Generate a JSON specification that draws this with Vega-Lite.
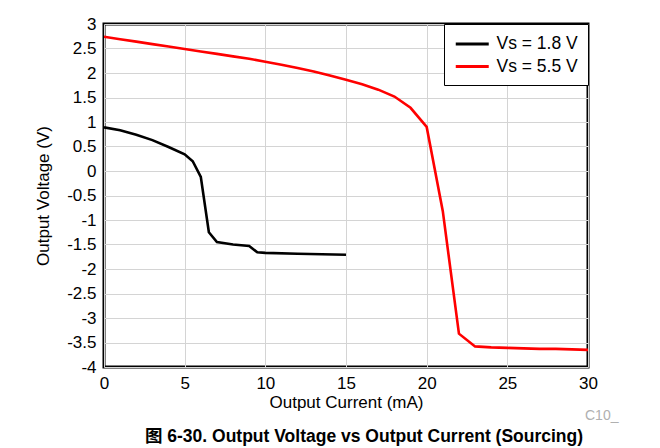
{
  "$schema": "https://vega.github.io/schema/vega-lite/v6.json",
  "width": 484,
  "height": 343,
  "autosize": {"type": "none"},
  "padding": {"left": 104, "top": 24, "right": 72, "bottom": 81},
  "background": "white",
  "title": {
    "text": "图 6-30. Output Voltage vs Output Current (Sourcing)",
    "orient": "bottom",
    "fontSize": 17.5,
    "fontWeight": "bold",
    "font": "Liberation Sans, Noto Sans CJK SC",
    "color": "black",
    "offset": 5,
    "dx": 18
  },
  "config": {
    "font": "Liberation Sans",
    "view": {"stroke": "black", "strokeWidth": 3},
    "axis": {
      "domain": false,
      "ticks": false,
      "grid": true,
      "gridColor": "#d4d4d4",
      "gridWidth": 1,
      "labelFont": "Liberation Sans",
      "labelFontSize": 17,
      "labelColor": "black",
      "labelOverlap": false,
      "titleFont": "Liberation Sans",
      "titleFontSize": 17,
      "titleFontWeight": "normal",
      "titleColor": "black"
    }
  },
  "datasets": {
    "curves": [
      {"current": 0, "voltage": 0.89, "series": "Vs = 1.8 V"},
      {"current": 1, "voltage": 0.83, "series": "Vs = 1.8 V"},
      {"current": 2, "voltage": 0.74, "series": "Vs = 1.8 V"},
      {"current": 3, "voltage": 0.63, "series": "Vs = 1.8 V"},
      {"current": 4, "voltage": 0.49, "series": "Vs = 1.8 V"},
      {"current": 5, "voltage": 0.34, "series": "Vs = 1.8 V"},
      {"current": 5.5, "voltage": 0.2, "series": "Vs = 1.8 V"},
      {"current": 6, "voltage": -0.12, "series": "Vs = 1.8 V"},
      {"current": 6.5, "voltage": -1.25, "series": "Vs = 1.8 V"},
      {"current": 7, "voltage": -1.45, "series": "Vs = 1.8 V"},
      {"current": 8, "voltage": -1.5, "series": "Vs = 1.8 V"},
      {"current": 9, "voltage": -1.53, "series": "Vs = 1.8 V"},
      {"current": 9.5, "voltage": -1.66, "series": "Vs = 1.8 V"},
      {"current": 10, "voltage": -1.67, "series": "Vs = 1.8 V"},
      {"current": 12, "voltage": -1.69, "series": "Vs = 1.8 V"},
      {"current": 15, "voltage": -1.71, "series": "Vs = 1.8 V"},
      {"current": 0, "voltage": 2.74, "series": "Vs = 5.5 V"},
      {"current": 1, "voltage": 2.69, "series": "Vs = 5.5 V"},
      {"current": 2, "voltage": 2.64, "series": "Vs = 5.5 V"},
      {"current": 3, "voltage": 2.59, "series": "Vs = 5.5 V"},
      {"current": 4, "voltage": 2.54, "series": "Vs = 5.5 V"},
      {"current": 5, "voltage": 2.49, "series": "Vs = 5.5 V"},
      {"current": 6, "voltage": 2.44, "series": "Vs = 5.5 V"},
      {"current": 7, "voltage": 2.39, "series": "Vs = 5.5 V"},
      {"current": 8, "voltage": 2.34, "series": "Vs = 5.5 V"},
      {"current": 9, "voltage": 2.29, "series": "Vs = 5.5 V"},
      {"current": 10, "voltage": 2.23, "series": "Vs = 5.5 V"},
      {"current": 11, "voltage": 2.17, "series": "Vs = 5.5 V"},
      {"current": 12, "voltage": 2.1, "series": "Vs = 5.5 V"},
      {"current": 13, "voltage": 2.03, "series": "Vs = 5.5 V"},
      {"current": 14, "voltage": 1.95, "series": "Vs = 5.5 V"},
      {"current": 15, "voltage": 1.86, "series": "Vs = 5.5 V"},
      {"current": 16, "voltage": 1.77, "series": "Vs = 5.5 V"},
      {"current": 17, "voltage": 1.66, "series": "Vs = 5.5 V"},
      {"current": 18, "voltage": 1.52, "series": "Vs = 5.5 V"},
      {"current": 19, "voltage": 1.29, "series": "Vs = 5.5 V"},
      {"current": 20, "voltage": 0.9, "series": "Vs = 5.5 V"},
      {"current": 21, "voltage": -0.82, "series": "Vs = 5.5 V"},
      {"current": 22, "voltage": -3.32, "series": "Vs = 5.5 V"},
      {"current": 23, "voltage": -3.58, "series": "Vs = 5.5 V"},
      {"current": 24, "voltage": -3.6, "series": "Vs = 5.5 V"},
      {"current": 25, "voltage": -3.61, "series": "Vs = 5.5 V"},
      {"current": 26, "voltage": -3.62, "series": "Vs = 5.5 V"},
      {"current": 27, "voltage": -3.63, "series": "Vs = 5.5 V"},
      {"current": 28, "voltage": -3.63, "series": "Vs = 5.5 V"},
      {"current": 29, "voltage": -3.64, "series": "Vs = 5.5 V"},
      {"current": 30, "voltage": -3.65, "series": "Vs = 5.5 V"}
    ],
    "note": [{"current": 30, "voltage": -4, "label": "C10_"}]
  },
  "encoding": {
    "x": {
      "field": "current",
      "type": "quantitative",
      "scale": {"domain": [0, 30], "nice": false},
      "axis": {"values": [0, 5, 10, 15, 20, 25, 30], "title": "Output Current (mA)", "labelPadding": 8, "titlePadding": 3, "labelFlush": false, "labelOverlap": false}
    },
    "y": {
      "field": "voltage",
      "type": "quantitative",
      "scale": {"domain": [-4, 3], "nice": false, "zero": false},
      "axis": {
        "values": [-4, -3.5, -3, -2.5, -2, -1.5, -1, -0.5, 0, 0.5, 1, 1.5, 2, 2.5, 3],
        "labelExpr": "replace(format(datum.value, '~g'), '\u2212', '-')",
        "labelOverlap": false,
        "title": "Output Voltage (V)",
        "labelPadding": 8,
        "titlePadding": 14,
        "labelFlush": false
      }
    }
  },
  "layer": [
    {
      "data": {"name": "curves"},
      "mark": {"type": "line", "strokeWidth": 2.6, "clip": true},
      "encoding": {
        "color": {
          "field": "series",
          "type": "nominal",
          "scale": {"domain": ["Vs = 1.8 V", "Vs = 5.5 V"], "range": ["#000000", "#ff0000"]},
          "legend": {
            "title": null,
            "orient": "top-right",
            "offset": 0,
            "padding": 10,
            "fillColor": "white",
            "strokeColor": "black",
            "symbolType": "M-1,0H3",
            "symbolSize": 272,
            "symbolStrokeWidth": 3,
            "labelFontSize": 17.5,
            "labelFont": "Liberation Sans",
            "labelColor": "black",
            "labelOffset": 22.5,
            "rowPadding": 3.5,
            "labelLimit": 200,
            "symbolOffset": 0
          }
        },
        "order": {"field": "current", "type": "quantitative"}
      }
    },
    {
      "data": {"name": "note"},
      "mark": {"type": "text", "align": "left", "baseline": "bottom", "dx": -3, "dy": 56, "fontSize": 14, "color": "#b0b0b0", "font": "Liberation Sans"},
      "encoding": {
        "text": {"field": "label"}
      }
    }
  ]
}
